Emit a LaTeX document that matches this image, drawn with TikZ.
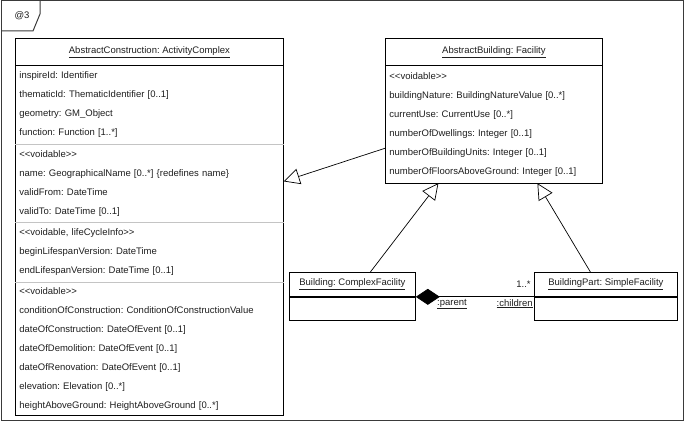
\documentclass[tikz,border=0pt]{standalone}
\usepackage{fontspec}
\setmainfont{Liberation Sans}
\usetikzlibrary{arrows.meta,positioning}
\definecolor{sepGray}{HTML}{C4C4C4}
\definecolor{frmGray}{HTML}{3A3A3A}
\definecolor{txtBlk}{HTML}{1E1E1E}
\frenchspacing

\begin{document}
\begin{tikzpicture}[
  x=1pt, y=-1pt,
  font=\fontsize{9.5}{19}\selectfont\frenchspacing, text=txtBlk,
  utitle/.style={draw, line width=0.8pt, inner sep=0pt, align=center},
  uattr/.style={inner xsep=4pt, inner ysep=0pt, align=left},
  ubox/.style={draw, line width=0.8pt},
  usep/.style={draw=sepGray, line width=0.8pt},
  gen/.style={-{Triangle[open, length=16pt, width=16pt, fill=white]}, line width=0.7pt},
  comp/.style={{Diamond[length=24pt, width=16pt]}-, line width=0.7pt},
  lbl/.style={inner sep=2pt},
  frm/.style={draw=frmGray, line width=1pt},
]
\useasboundingbox (0,0) rectangle (685,422);

% ---------------- frame ----------------
\draw[frm] (1,1) rectangle (683,420);
\draw[frm] (1,31) -- (33,31) -- (40,14) -- (40,1);
\node[lbl] (frmTag) at (22,16) {@3};

% ---------------- AbstractConstruction ----------------
\node[utitle, minimum width=268pt, minimum height=27pt, anchor=north west] (acTitle) at (15,38)
  {\underline{AbstractConstruction: ActivityComplex}};

\node[uattr, text width=260pt, minimum height=78pt, below=0pt of acTitle] (acIds)
  {inspireId: Identifier\\
   thematicId: ThematicIdentifier [0..1]\\
   geometry: GM\_Object\\
   function: Function [1..*]};

\node[uattr, text width=260pt, minimum height=78pt, below=0pt of acIds] (acVoid)
  {<{}<voidable>{}>\\
   name: GeographicalName [0..*] \{redefines name\}\\
   validFrom: DateTime\\
   validTo: DateTime [0..1]};

\node[uattr, text width=260pt, minimum height=59pt, below=0pt of acVoid] (acLife)
  {<{}<voidable, lifeCycleInfo>{}>\\
   beginLifespanVersion: DateTime\\
   endLifespanVersion: DateTime [0..1]};

\node[uattr, text width=260pt, minimum height=133pt, below=0pt of acLife] (acCond)
  {<{}<voidable>{}>\\
   conditionOfConstruction: ConditionOfConstructionValue\\
   dateOfConstruction: DateOfEvent [0..1]\\
   dateOfDemolition: DateOfEvent [0..1]\\
   dateOfRenovation: DateOfEvent [0..1]\\
   elevation: Elevation [0..*]\\
   heightAboveGround: HeightAboveGround [0..*]};

\draw[ubox] (acTitle.north west) rectangle (acCond.south east);
\draw[usep] (acVoid.north west) -- (acVoid.north east);
\draw[usep] (acLife.north west) -- (acLife.north east);
\draw[usep] (acCond.north west) -- (acCond.north east);

% ---------------- AbstractBuilding ----------------
\node[utitle, minimum width=217pt, minimum height=27pt, anchor=north west] (abTitle) at (385,38)
  {\underline{AbstractBuilding: Facility}};

\node[uattr, text width=209pt, minimum height=117pt, below=0pt of abTitle] (abAttrs)
  {<{}<voidable>{}>\\
   buildingNature: BuildingNatureValue [0..*]\\
   currentUse: CurrentUse [0..*]\\
   numberOfDwellings: Integer [0..1]\\
   numberOfBuildingUnits: Integer [0..1]\\
   numberOfFloorsAboveGround: Integer [0..1]};

\draw[ubox] (abTitle.north west) rectangle (abAttrs.south east);

% ---------------- Building / BuildingPart ----------------
\node[utitle, minimum width=126pt, minimum height=24pt, anchor=north west] (bcTitle) at (289,272)
  {\underline{Building: ComplexFacility}};
\node[ubox, minimum width=126pt, minimum height=23pt, inner sep=0pt, below=0pt of bcTitle] (bcBody) {};

\node[utitle, minimum width=143pt, minimum height=24pt, anchor=north west] (bpTitle) at (534,272)
  {\underline{BuildingPart: SimpleFacility}};
\node[ubox, minimum width=143pt, minimum height=23pt, inner sep=0pt, below=0pt of bpTitle] (bpBody) {};

% ---------------- connectors ----------------
\draw[gen] ([yshift=35pt]abAttrs.south west) -- ([yshift=2pt]acVoid.east);
\draw[gen] ([xshift=18pt]bcTitle.north) -- ([xshift=-55.5pt]abAttrs.south);
\draw[gen] ([xshift=-15.5pt]bpTitle.north) -- ([xshift=43.5pt]abAttrs.south);

\draw[comp] (bcTitle.south east) -- (bpTitle.south west)
  node[lbl, pos=0, anchor=north west, xshift=19pt] {\underline{:parent}}
  node[lbl, pos=1, anchor=north east, xshift=1pt] {\underline{:children}}
  node[lbl, pos=1, anchor=south east, xshift=-1pt, yshift=7pt] {1..*};

\end{tikzpicture}
\end{document}
